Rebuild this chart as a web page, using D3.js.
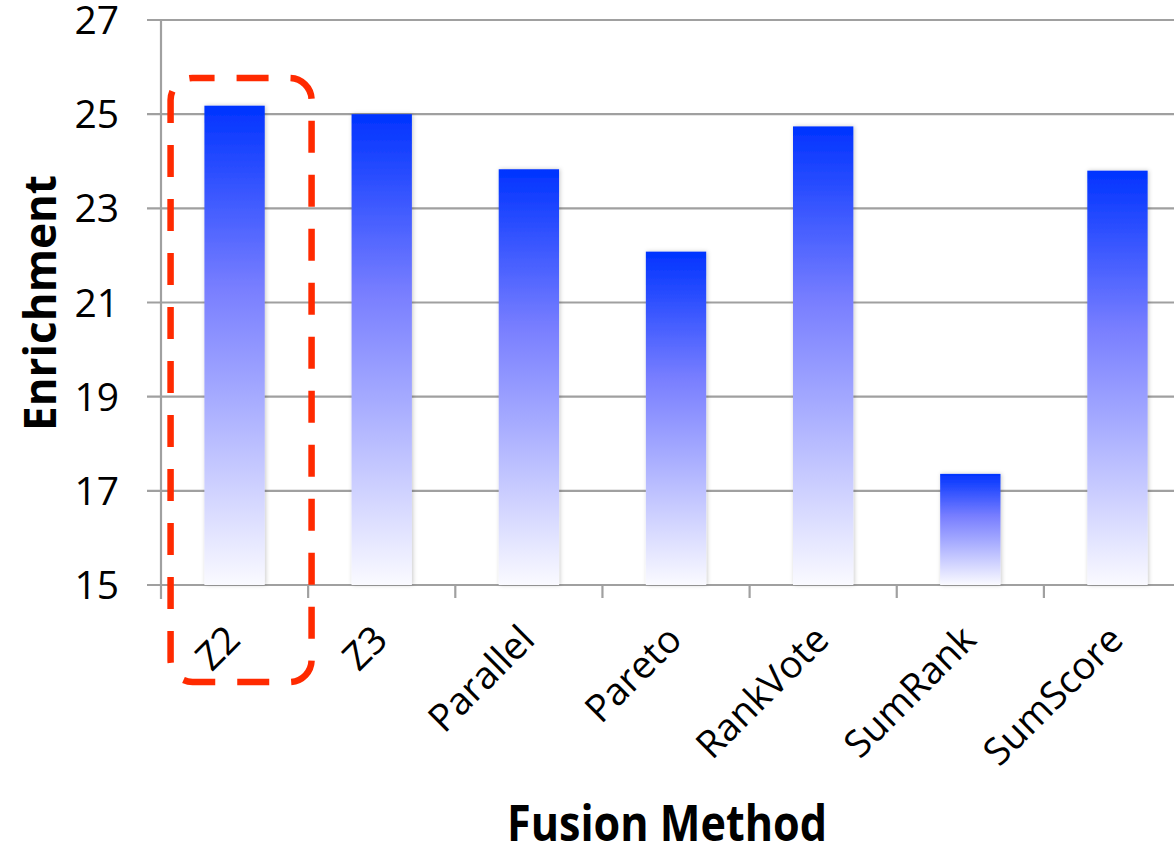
<!DOCTYPE html>
<html lang="en">
<head>
  <meta charset="UTF-8">
  <title>Enrichment by Fusion Method</title>
  <script src="https://d3js.org/d3.v7.min.js"></script>
  <style>
    body { margin: 0; background: #fff; }
    svg { display: block; }
  </style>
</head>
<body>
  <div id="chart"></div>

  <script>
    // values
    const categories = ["Z2", "Z3", "Parallel", "Pareto", "RankVote", "SumRank", "SumScore"];
    const enrichment = [25.18, 25.0, 23.83, 22.08, 24.74, 17.36, 23.80];
    const yTicks = [15, 17, 19, 21, 23, 25, 27];
    const highlighted = "Z2";

    const W = 1174, H = 846;
    const plotLeft = 161, plotTop = 20, plotBottom = 585;

    const svg = d3.select("#chart")
      .append("svg")
      .attr("width", W)
      .attr("height", H);

    const defs = svg.append("defs");

    // blue -> white fade used by every bar
    const grad = defs.append("linearGradient")
      .attr("id", "barFill")
      .attr("x1", 0).attr("y1", 0)
      .attr("x2", 0).attr("y2", 1);
    grad.append("stop").attr("offset", "0%").attr("stop-color", "rgb(0,51,255)");
    grad.append("stop").attr("offset", "38%").attr("stop-color", "rgb(120,126,255)");
    grad.append("stop").attr("offset", "61%").attr("stop-color", "rgb(166,171,255)");
    grad.append("stop").attr("offset", "100%").attr("stop-color", "rgb(250,250,255)");

    const shadow = defs.append("filter")
      .attr("id", "barShadow")
      .attr("x", "-20%").attr("y", "-5%")
      .attr("width", "140%").attr("height", "110%");
    shadow.append("feDropShadow")
      .attr("dx", 1).attr("dy", 0)
      .attr("stdDeviation", 2)
      .attr("flood-color", "#000")
      .attr("flood-opacity", 0.22);

    // scales
    const step = 147.15;
    const x = d3.scaleBand()
      .domain(categories)
      .range([plotLeft, plotLeft + step * categories.length])
      .paddingInner(0.59)
      .paddingOuter(0.295);

    const y = d3.scaleLinear()
      .domain([15, 27])
      .range([plotBottom, plotTop]);

    // horizontal gridlines
    svg.append("g")
      .selectAll("line")
      .data(yTicks)
      .join("line")
        .attr("x1", plotLeft - 14)
        .attr("x2", W)
        .attr("y1", d => y(d))
        .attr("y2", d => y(d))
        .attr("stroke", "#a0a0a0")
        .attr("stroke-width", 2.2);

    // y axis line
    svg.append("line")
      .attr("x1", plotLeft).attr("x2", plotLeft)
      .attr("y1", plotTop).attr("y2", plotBottom + 14)
      .attr("stroke", "#a0a0a0")
      .attr("stroke-width", 2.2);

    // x tick marks between categories
    const boundaries = d3.range(categories.length + 1).map(i => plotLeft + i * x.step());
    svg.append("g")
      .selectAll("line")
      .data(boundaries.slice(1))
      .join("line")
        .attr("x1", d => d).attr("x2", d => d)
        .attr("y1", plotBottom).attr("y2", plotBottom + 13)
        .attr("stroke", "#a0a0a0")
        .attr("stroke-width", 2.2);

    // bars
    svg.append("g")
      .selectAll("rect")
      .data(categories)
      .join("rect")
        .attr("x", d => x(d))
        .attr("y", (d, i) => y(enrichment[i]))
        .attr("width", x.bandwidth())
        .attr("height", (d, i) => y(15) - y(enrichment[i]))
        .attr("fill", "url(#barFill)")
        .attr("filter", "url(#barShadow)");

    // y tick labels
    svg.append("g")
      .selectAll("text")
      .data(yTicks)
      .join("text")
        .attr("x", 119)
        .attr("y", d => y(d))
        .attr("dy", "0.36em")
        .attr("text-anchor", "end")
        .style("font-family", "'Open Sans', sans-serif")
        .style("font-size", "39px")
        .attr("fill", "#000")
        .text(d => d);

    // x tick labels, rotated
    svg.append("g")
      .selectAll("text")
      .data(categories)
      .join("text")
        .attr("transform", d => "translate(" + (x(d) + x.bandwidth() / 2 - 11) + "," + (plotBottom + 38) + ") rotate(-45)")
        .attr("text-anchor", "end")
        .attr("dy", "0.7em")
        .style("font-family", "'Open Sans', sans-serif")
        .style("font-size", "38px")
        .attr("fill", "#000")
        .text(d => d);

    // axis titles
    svg.append("text")
      .attr("transform", "translate(56," + 303 + ") rotate(-90)")
      .attr("text-anchor", "middle")
      .style("font-family", "'Open Sans', sans-serif")
      .style("font-size", "45px")
      .style("font-weight", "bold")
      .attr("textLength", 256)
      .attr("lengthAdjust", "spacingAndGlyphs")
      .text("Enrichment");

    svg.append("text")
      .attr("x", 667)
      .attr("y", 841)
      .attr("text-anchor", "middle")
      .style("font-family", "'Open Sans', sans-serif")
      .style("font-size", "50px")
      .style("font-weight", "bold")
      .attr("textLength", 320)
      .attr("lengthAdjust", "spacingAndGlyphs")
      .text("Fusion Method");

    // red dashed box around the highlighted category
    const hx = x(highlighted) + x.bandwidth() / 2;
    svg.append("rect")
      .attr("x", hx - 64)
      .attr("y", 78)
      .attr("width", 141)
      .attr("height", 604)
      .attr("rx", 22)
      .attr("ry", 22)
      .attr("fill", "none")
      .attr("stroke", "#ff2a00")
      .attr("stroke-width", 6.5)
      .attr("stroke-dasharray", "32,22")
      .attr("stroke-dashoffset", 10);
  </script>
</body>
</html>
